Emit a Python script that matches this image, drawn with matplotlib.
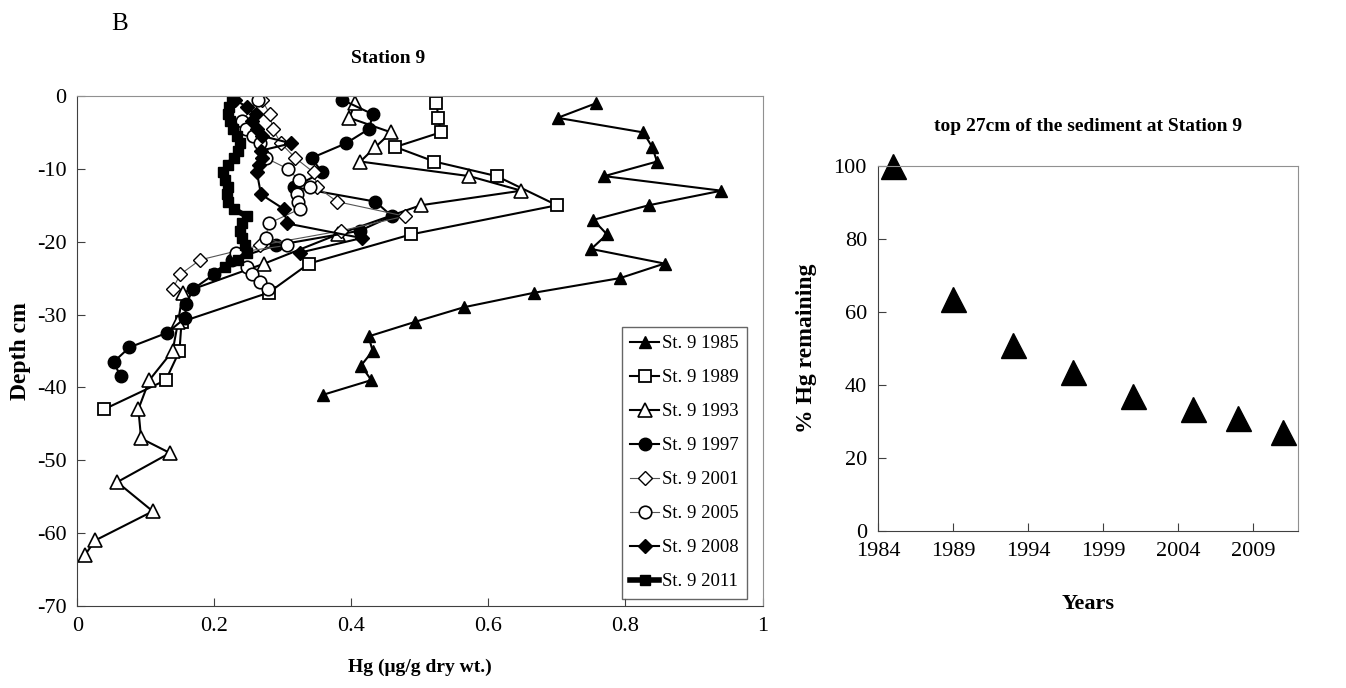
import matplotlib
matplotlib.use("Agg")
import matplotlib.pyplot as plt

plt.rcParams['font.family'] = ['Liberation Serif', 'DejaVu Serif']
plt.rcParams['axes.unicode_minus'] = False

# depth profiles at Station 9 (Hg ug/g, depth cm)
d1985 = [-1, -3, -5, -7, -9, -11, -13, -15, -17, -19, -21, -23, -25, -27, -29, -31, -33, -35, -37, -39, -41]
hg1985 = [0.757, 0.701, 0.826, 0.839, 0.846, 0.769, 0.940, 0.834, 0.753, 0.773, 0.750, 0.857, 0.792,
          0.667, 0.564, 0.493, 0.425, 0.431, 0.414, 0.429, 0.359]

d1989 = [-1, -3, -5, -7, -9, -11, -15, -19, -23, -27, -31, -35, -39, -43]
hg1989 = [0.524, 0.527, 0.530, 0.464, 0.521, 0.612, 0.700, 0.487, 0.338, 0.279, 0.152, 0.149, 0.129, 0.039]

d1993 = [-1, -3, -5, -7, -9, -11, -13, -15, -19, -23, -27, -31, -35, -39, -43, -47, -49, -53, -57, -61, -63]
hg1993 = [0.405, 0.397, 0.458, 0.435, 0.413, 0.572, 0.648, 0.501, 0.380, 0.273, 0.154, 0.147, 0.139,
          0.105, 0.089, 0.093, 0.135, 0.058, 0.110, 0.026, 0.011]

d1997 = [-0.5, -2.5, -4.5, -6.5, -8.5, -10.5, -12.5, -14.5, -16.5, -18.5, -20.5, -22.5, -24.5,
         -26.5, -28.5, -30.5, -32.5, -34.5, -36.5, -38.5]
hg1997 = [0.386, 0.431, 0.426, 0.392, 0.342, 0.357, 0.316, 0.435, 0.459, 0.412, 0.29, 0.225, 0.199,
          0.169, 0.159, 0.157, 0.131, 0.076, 0.053, 0.063]

d2001 = [-0.5, -2.5, -4.5, -6.5, -8.5, -10.5, -12.5, -14.5, -16.5, -18.5, -20.5, -22.5, -24.5, -26.5]
hg2001 = [0.269, 0.281, 0.285, 0.297, 0.318, 0.345, 0.35, 0.379, 0.478, 0.385, 0.266, 0.179, 0.150, 0.139]

d2005 = [-0.5, -3.5, -4.5, -5.5, -6.5, -8.5, -10, -11.5, -12.5, -13.5, -14.5, -15.5, -17.5, -19.5,
         -20.5, -21.5, -23.5, -24.5, -25.5, -26.5]
hg2005 = [0.264, 0.240, 0.246, 0.256, 0.266, 0.275, 0.307, 0.323, 0.340, 0.320, 0.322, 0.325, 0.279,
          0.275, 0.306, 0.232, 0.247, 0.255, 0.266, 0.278]

d2008 = [-0.5, -1.5, -2.5, -3.5, -4.5, -5.5, -6.5, -7.5, -8.5, -9.5, -10.5, -13.5, -15.5, -17.5, -19.5, -21.5]
hg2008 = [0.230, 0.247, 0.260, 0.255, 0.262, 0.270, 0.312, 0.268, 0.270, 0.265, 0.262, 0.268, 0.301,
          0.306, 0.415, 0.325]

d2011 = [-0.5, -1.5, -2.5, -3.5, -4.5, -5.5, -6.5, -7.5, -8.5, -9.5, -10.5, -11.5, -12.5, -13.5,
         -14.5, -15.5, -16.5, -17.5, -18.5, -19.5, -20.5, -21.5, -22.5, -23.5, -24.5]
hg2011 = [0.225, 0.222, 0.220, 0.223, 0.227, 0.233, 0.237, 0.235, 0.228, 0.220, 0.213, 0.215, 0.220,
          0.218, 0.220, 0.228, 0.247, 0.240, 0.238, 0.240, 0.245, 0.247, 0.235, 0.215, 0.199]

# % Hg remaining in top 27 cm
years = [1985, 1989, 1993, 1997, 2001, 2005, 2008, 2011]
remaining = [100, 63.5, 51, 43.5, 37, 33.5, 31, 27]

fig = plt.figure(figsize=(13.46, 6.88), dpi=100)

ax = fig.add_axes([0.0575, 0.1192, 0.509, 0.7413])
ax.plot(hg1985, d1985, '-^', color='black', lw=1.5, ms=9, mfc='black', mec='black', label='St. 9 1985')
ax.plot(hg1989, d1989, '-s', color='black', lw=1.5, ms=9, mfc='white', mec='black', mew=1.3, label='St. 9 1989')
ax.plot(hg1993, d1993, '-^', color='black', lw=1.5, ms=10, mfc='white', mec='black', mew=1.2, label='St. 9 1993')
ax.plot(hg1997, d1997, '-o', color='black', lw=1.5, ms=9, mfc='black', mec='black', label='St. 9 1997')
ax.plot(hg2001, d2001, '-D', color='#555555', lw=0.8, ms=7, mfc='white', mec='black', mew=1.0, label='St. 9 2001')
ax.plot(hg2005, d2005, '-o', color='#555555', lw=0.8, ms=9, mfc='white', mec='black', mew=1.2, label='St. 9 2005')
ax.plot(hg2008, d2008, '-D', color='black', lw=1.5, ms=7, mfc='black', mec='black', label='St. 9 2008')
ax.plot(hg2011, d2011, '-s', color='black', lw=4, ms=7, mfc='black', mec='black', label='St. 9 2011')

ax.set_xlim(0, 1)
ax.set_ylim(-70, 0)
ax.set_xticks([0, 0.2, 0.4, 0.6, 0.8, 1])
ax.set_xticklabels(['0', '0.2', '0.4', '0.6', '0.8', '1'])
ax.set_yticks(range(-70, 1, 10))
ax.tick_params(direction='in', length=6, labelsize=16, pad=8, color='#404040')
for side in ['left', 'bottom']:
    ax.spines[side].set_color('#404040')
for side in ['top', 'right']:
    ax.spines[side].set_color('#909090')
ax.set_xlabel('Hg (μg/g dry wt.)', fontsize=14, fontweight='bold', labelpad=16)
ax.set_ylabel('Depth cm', fontsize=17, fontweight='bold', labelpad=4)
ax.set_title('Station 9', fontsize=14, fontweight='bold', pad=24, x=0.453)
leg = ax.legend(loc='upper left', bbox_to_anchor=(0.795, 0.548), borderaxespad=0, fontsize=13.5,
                frameon=True, fancybox=False, edgecolor='#404040', handlelength=1.5,
                handletextpad=0.2, labelspacing=0.9, borderpad=0.45)
leg.get_frame().set_linewidth(1.0)

fig.text(0.089, 0.965, 'B', fontsize=18, ha='center', va='center')

ax2 = fig.add_axes([0.6523, 0.2282, 0.312, 0.5305])
ax2.plot(years, remaining, '^', color='black', ms=18, clip_on=False)
ax2.set_xlim(1984, 2012)
ax2.set_ylim(0, 100)
ax2.set_xticks([1984, 1989, 1994, 1999, 2004, 2009])
ax2.set_yticks(range(0, 101, 20))
ax2.tick_params(direction='in', length=6, labelsize=16, pad=8, color='#404040')
for side in ['left', 'bottom']:
    ax2.spines[side].set_color('#404040')
for side in ['top', 'right']:
    ax2.spines[side].set_color('#909090')
ax2.set_xlabel('Years', fontsize=16, fontweight='bold', labelpad=24)
ax2.set_ylabel('% Hg remaining', fontsize=17, fontweight='bold', labelpad=12)
ax2.set_title('top 27cm of the sediment at Station 9', fontsize=14, fontweight='bold', pad=25)

fig.savefig('out.png', dpi=100)
